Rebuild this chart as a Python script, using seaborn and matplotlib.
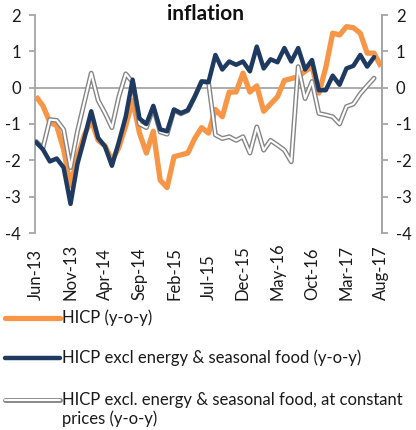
import matplotlib
matplotlib.use("Agg")
import matplotlib.pyplot as plt
import numpy as np
import pandas as pd
import seaborn as sns
from matplotlib.lines import Line2D

# ---- data (monthly, Jun-13 .. Aug-17) ----
hicp = [-0.24, -0.5, -0.95, -1.05, -1.7, -2.7, -1.9, -1.3, -0.9, -1.45,
        -1.6, -2.0, -1.65, -1.05, -0.35, -1.25, -1.8, -1.2, -2.55, -2.75,
        -1.9, -1.85, -1.8, -1.4, -1.1, -1.25, -0.6, -0.8, -0.12, -0.12,
        0.4, -0.12, 0.05, -0.65, -0.45, -0.25, 0.2, 0.25, 0.3, 0.45,
        0.58, -0.15, 0.55, 1.5, 1.45, 1.68, 1.65, 1.5, 0.95, 0.95, 0.58]
core = [-1.5, -1.7, -2.03, -1.95, -2.2, -3.2, -2.1, -1.4, -0.65, -1.38,
        -1.62, -2.15, -1.5, -0.8, 0.22, -0.85, -1.0, -0.5, -1.15, -1.2,
        -0.6, -0.7, -0.62, -0.25, 0.17, 0.15, 0.9, 0.5, 0.72, 0.63,
        0.72, 0.45, 1.13, 0.53, 0.78, 0.7, 1.09, 0.72, 1.09, 0.5,
        0.76, -0.07, -0.07, 0.33, 0.08, 0.53, 0.6, 0.9, 0.58, 0.84]
core_const = [-1.48, -1.66, -0.88, -0.9, -1.15, -2.2, -1.2, -0.4, 0.4, -0.35,
              -0.7, -1.1, -0.25, 0.38, 0.15, -1.0, -1.1, -0.55, -1.22, -1.28,
              -0.62, -0.72, -0.63, -0.25, 0.17, 0.15, -1.3, -1.4, -1.35, -1.45,
              -1.35, -1.8, -1.08, -1.72, -1.45, -1.58, -1.72, -2.04, 0.58, -0.3,
              0.17, -0.71, -0.75, -0.8, -1.0, -0.52, -0.45, -0.17, 0.05, 0.26]
tick_labels = ["Jun-13", "Nov-13", "Apr-14", "Sep-14", "Feb-15", "Jul-15",
               "Dec-15", "May-16", "Oct-16", "Mar-17", "Aug-17"]
y_ticks = [2, 1, 0, -1, -2, -3, -4]
series_names = ["HICP (y-o-y)",
                "HICP excl energy & seasonal food (y-o-y)",
                "HICP excl. energy & seasonal food, at constant\nprices (y-o-y)"]

df_h = pd.DataFrame({"month": np.arange(len(hicp)), "value": hicp})
df_c = pd.DataFrame({"month": np.arange(len(core)), "value": core})
df_k = pd.DataFrame({"month": np.arange(len(core_const)), "value": core_const})

sns.set_style("white")
plt.rcParams["font.family"] = ["Lato", "DejaVu Sans"]

W, H = 416, 430
FS = 12
fig = plt.figure(figsize=(W / 100, H / 100), dpi=100)
ax = fig.add_axes([35 / W, 1 - 233 / H, (382 - 35) / W, (233 - 15) / H])

ORANGE = "#F79646"
NAVY = "#1F3A60"
GREY = "#858585"
AXC = "#A6A6A6"

ax.axhline(0, color=AXC, lw=1.3, zorder=1)

sns.lineplot(data=df_h, x="month", y="value", ax=ax, color=ORANGE, lw=3.8,
             zorder=2, solid_joinstyle="round", solid_capstyle="butt")
sns.lineplot(data=df_k, x="month", y="value", ax=ax, color=GREY, lw=3.5,
             zorder=3, solid_joinstyle="round")
sns.lineplot(data=df_k, x="month", y="value", ax=ax, color="white", lw=1.5,
             zorder=4, solid_joinstyle="round")
sns.lineplot(data=df_c, x="month", y="value", ax=ax, color=NAVY, lw=3.2,
             zorder=5, solid_joinstyle="round")

ax.set_xlim(-0.15, 50.15)
ax.set_ylim(-4, 2)
ax.set_xlabel("")
ax.set_ylabel("")
for s in ["top", "bottom"]:
    ax.spines[s].set_visible(False)
for s in ["left", "right"]:
    ax.spines[s].set_color(AXC)
    ax.spines[s].set_linewidth(1.3)

ax.set_xticks(np.arange(0, 51, 5))
ax.set_xticklabels(tick_labels, rotation=90, rotation_mode="anchor",
                   ha="left", va="center")
ax.tick_params(axis="x", length=0, pad=48, labelsize=FS, labelcolor="#1a1a1a")

ax.set_yticks(y_ticks)
ax.set_yticklabels([str(v) for v in y_ticks])
ax.tick_params(axis="y", direction="out", length=4, width=1.3, color=AXC,
               labelsize=FS, labelcolor="#1a1a1a", pad=6)

ax2 = ax.twinx()
ax2.set_ylim(-4, 2)
ax2.set_yticks(y_ticks)
ax2.set_yticklabels([str(v) for v in y_ticks])
ax2.tick_params(axis="y", direction="out", length=4, width=1.3, color=AXC,
                labelsize=FS, labelcolor="#1a1a1a", pad=6)
for s in ["top", "bottom", "left"]:
    ax2.spines[s].set_visible(False)
ax2.spines["right"].set_color(AXC)
ax2.spines["right"].set_linewidth(1.3)

fig.text(206 / W, 1 - 14 / H, "inflation", ha="center", va="center",
         fontsize=15, fontweight="bold", color="#111111")

# ---- legend ----
x0, x1, xt = 5 / W, 60 / W, 62 / W
ys = [318, 358, 400]
fig.add_artist(Line2D([x0, x1], [1 - ys[0] / H] * 2, color=ORANGE, lw=3.8,
                      solid_capstyle="round", transform=fig.transFigure))
fig.add_artist(Line2D([x0, x1], [1 - ys[1] / H] * 2, color=NAVY, lw=3.2,
                      solid_capstyle="round", transform=fig.transFigure))
fig.add_artist(Line2D([x0, x1], [1 - ys[2] / H] * 2, color=GREY, lw=3.5,
                      solid_capstyle="round", transform=fig.transFigure))
fig.add_artist(Line2D([x0, x1], [1 - ys[2] / H] * 2, color="white", lw=1.5,
                      solid_capstyle="round", transform=fig.transFigure))
fig.text(xt, 1 - ys[0] / H, series_names[0], ha="left", va="center",
         fontsize=FS, color="#1a1a1a")
fig.text(xt, 1 - ys[1] / H, series_names[1], ha="left", va="center",
         fontsize=FS, color="#1a1a1a")
fig.text(xt, 1 - (ys[2] + 9.5) / H, series_names[2], ha="left", va="center",
         fontsize=FS, color="#1a1a1a", linespacing=1.2)

fig.savefig("out.png", dpi=100)
